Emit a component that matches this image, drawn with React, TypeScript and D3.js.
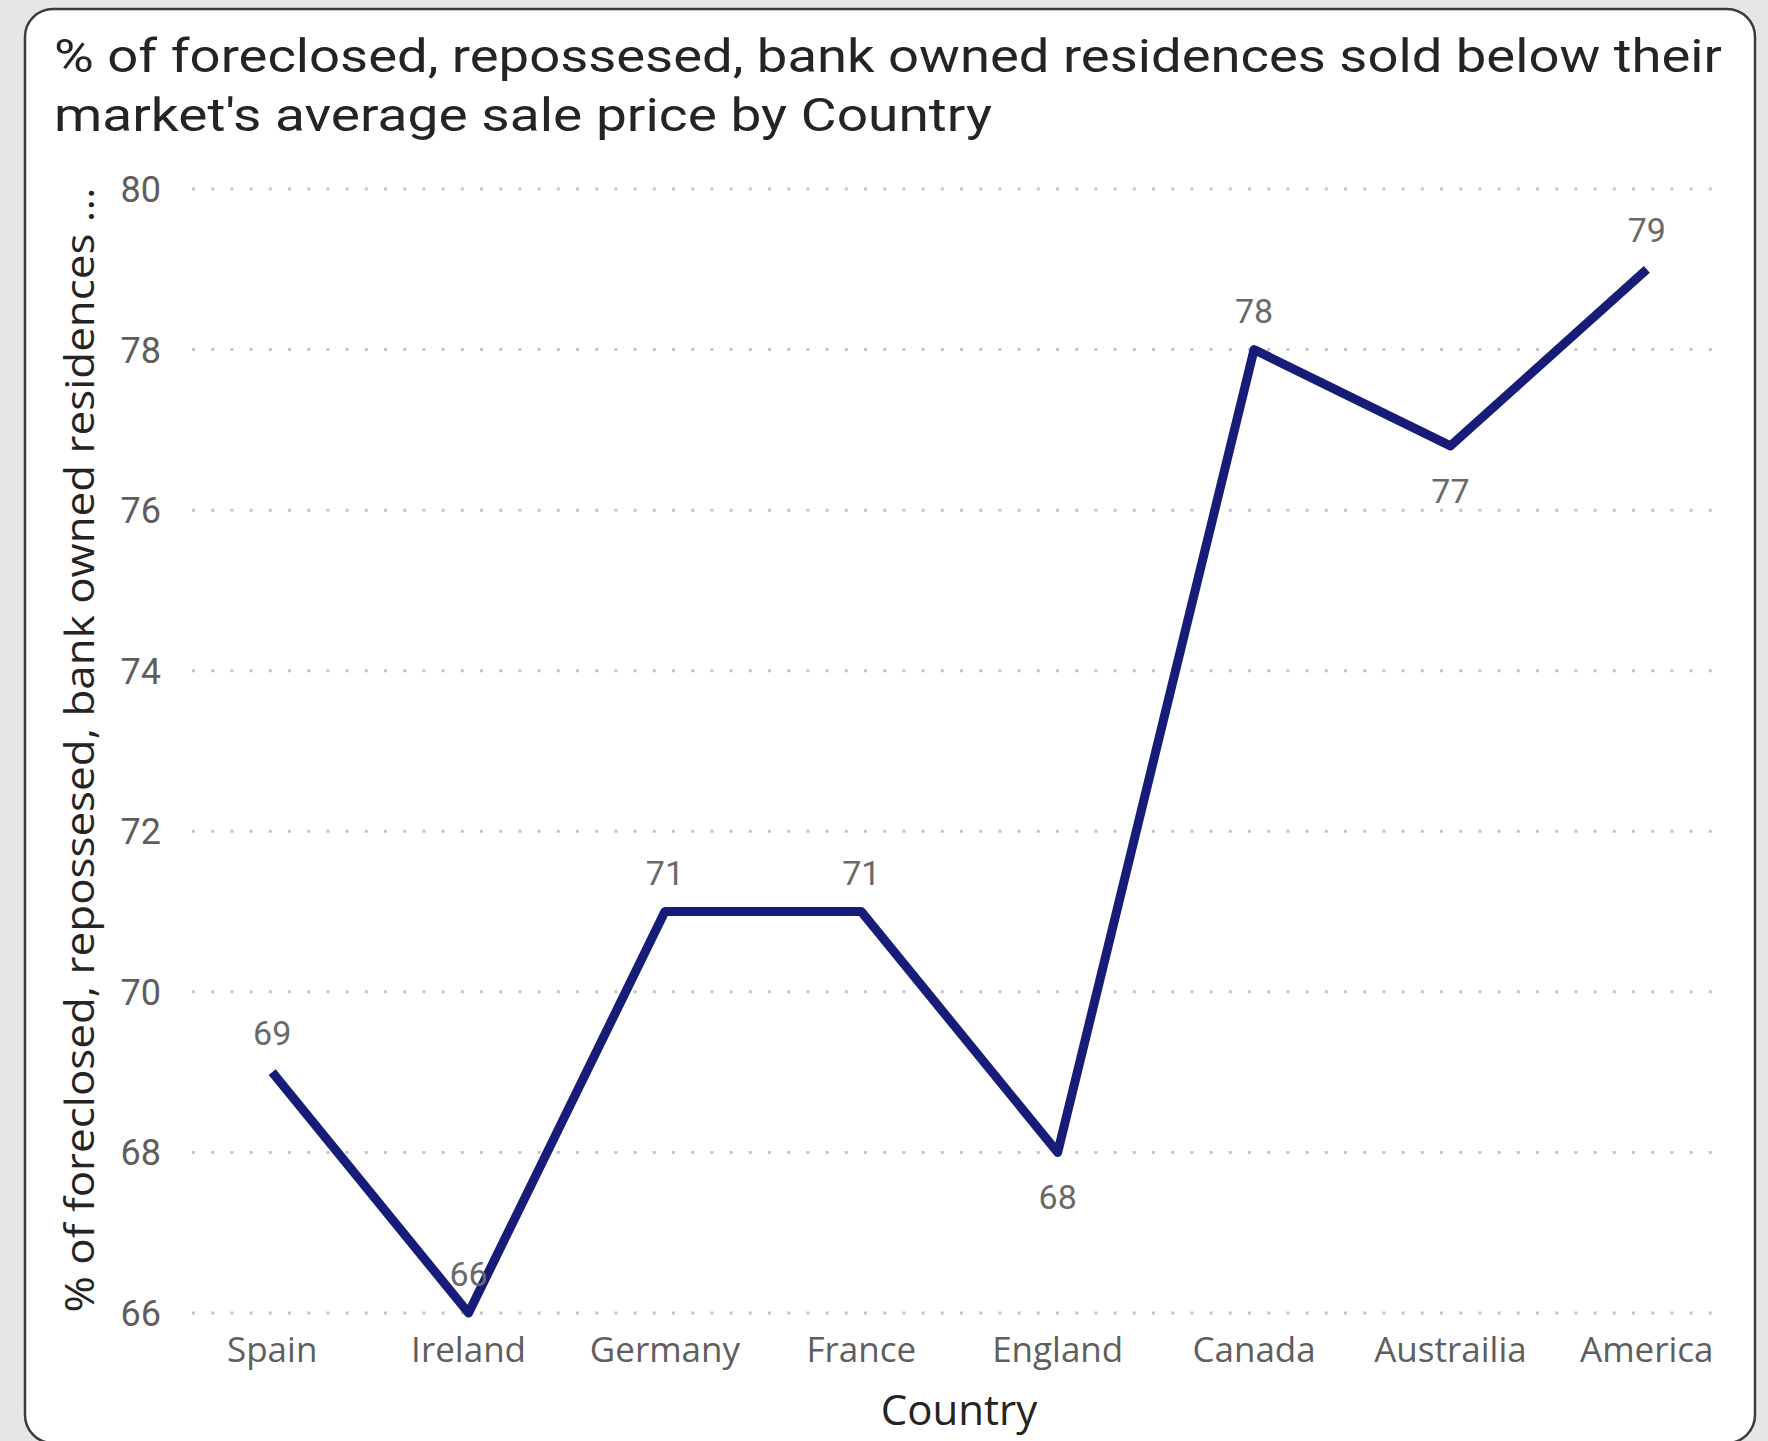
import React from "react";
import * as d3 from "d3";

const countries = ["Spain", "Ireland", "Germany", "France", "England", "Canada", "Austrailia", "America"];
const values = [69, 66, 71, 71, 68, 78, 76.8, 79];
const labelsBelow = ["England", "Austrailia"];
const yTicks = [66, 68, 70, 72, 74, 76, 78, 80];
const titleLines = [
  "% of foreclosed, repossesed, bank owned residences sold below their",
  "market's average sale price by Country",
];
const yAxisTitle = "% of foreclosed, repossesed, bank owned residences ...";
const xAxisTitle = "Country";

const W = 1768;
const H = 1441;

export default function App() {
  const x = d3.scalePoint<string>().domain(countries).range([174, 1745]).padding(0.5);
  const y = d3.scaleLinear().domain([66, 80]).range([1313, 189]);
  const data = countries.map((c, i) => ({ c, v: values[i] }));
  const line = d3
    .line<{ c: string; v: number }>()
    .x((d) => x(d.c) as number)
    .y((d) => y(d.v));
  const fmt = d3.format(".0f");
  const gridX0 = 192;
  const gridX1 = 1723;

  return (
    <svg
      width={W}
      height={H}
      style={{ position: "absolute", left: 0, top: 0 }}
      viewBox={`0 0 ${W} ${H}`}
    >
      <rect x={0} y={0} width={W} height={H} fill="#e6e6e6" />
      <rect x={25} y={9} width={1730} height={1434} rx={28} ry={28} fill="#ffffff" stroke="#3c3c3c" strokeWidth={2.5} />

      {/* Title */}
      <text x={54} y={72} fontFamily="Roboto, 'DejaVu Sans Condensed', sans-serif" fontSize={47} fill="#252423" textLength={1668} lengthAdjust="spacingAndGlyphs">
        {titleLines[0]}
      </text>
      <text x={54} y={131} fontFamily="Roboto, 'DejaVu Sans Condensed', sans-serif" fontSize={47} fill="#252423" textLength={938} lengthAdjust="spacingAndGlyphs">
        {titleLines[1]}
      </text>

      {/* Gridlines */}
      {yTicks.map((t) => (
        <line
          key={"g" + t}
          x1={gridX0}
          x2={gridX1}
          y1={y(t)}
          y2={y(t)}
          stroke="#c8c6c4"
          strokeWidth={3}
          strokeDasharray="3 16.2"
        />
      ))}

      {/* Y tick labels */}
      {yTicks.map((t) => (
        <text
          key={"t" + t}
          x={161}
          y={y(t) + 13}
          textAnchor="end"
          fontFamily="Roboto, sans-serif"
          fontSize={36}
          fill="#605e5c"
        >
          {t}
        </text>
      ))}

      {/* Y axis title */}
      <text
        transform={`translate(94, 750) rotate(-90)`}
        textAnchor="middle"
        fontFamily="'Open Sans', sans-serif"
        fontSize={41}
        fill="#252423"
        textLength={1125}
        lengthAdjust="spacingAndGlyphs"
      >
        {yAxisTitle}
      </text>

      {/* X labels */}
      {countries.map((c) => (
        <text
          key={"x" + c}
          x={x(c) as number}
          y={1362}
          textAnchor="middle"
          fontFamily="'Open Sans', sans-serif"
          fontSize={35}
          fill="#605e5c"
        >
          {c}
        </text>
      ))}

      {/* X axis title */}
      <text x={959} y={1425} textAnchor="middle" fontFamily="'Open Sans', sans-serif" fontSize={42} fill="#252423">
        {xAxisTitle}
      </text>

      {/* Line */}
      <path d={line(data) || ""} fill="none" stroke="#161c78" strokeWidth={9} strokeLinejoin="round" strokeLinecap="butt" />

      {/* Data labels */}
      {data.map((d) => {
        const below = labelsBelow.includes(d.c);
        const py = y(d.v);
        return (
          <text
            key={"l" + d.c}
            x={x(d.c) as number}
            y={below ? py + 57 : py - 27}
            textAnchor="middle"
            fontFamily="Roboto, sans-serif"
            fontSize={34}
            fill="#6b6a69"
          >
            {fmt(d.v)}
          </text>
        );
      })}
    </svg>
  );
}
